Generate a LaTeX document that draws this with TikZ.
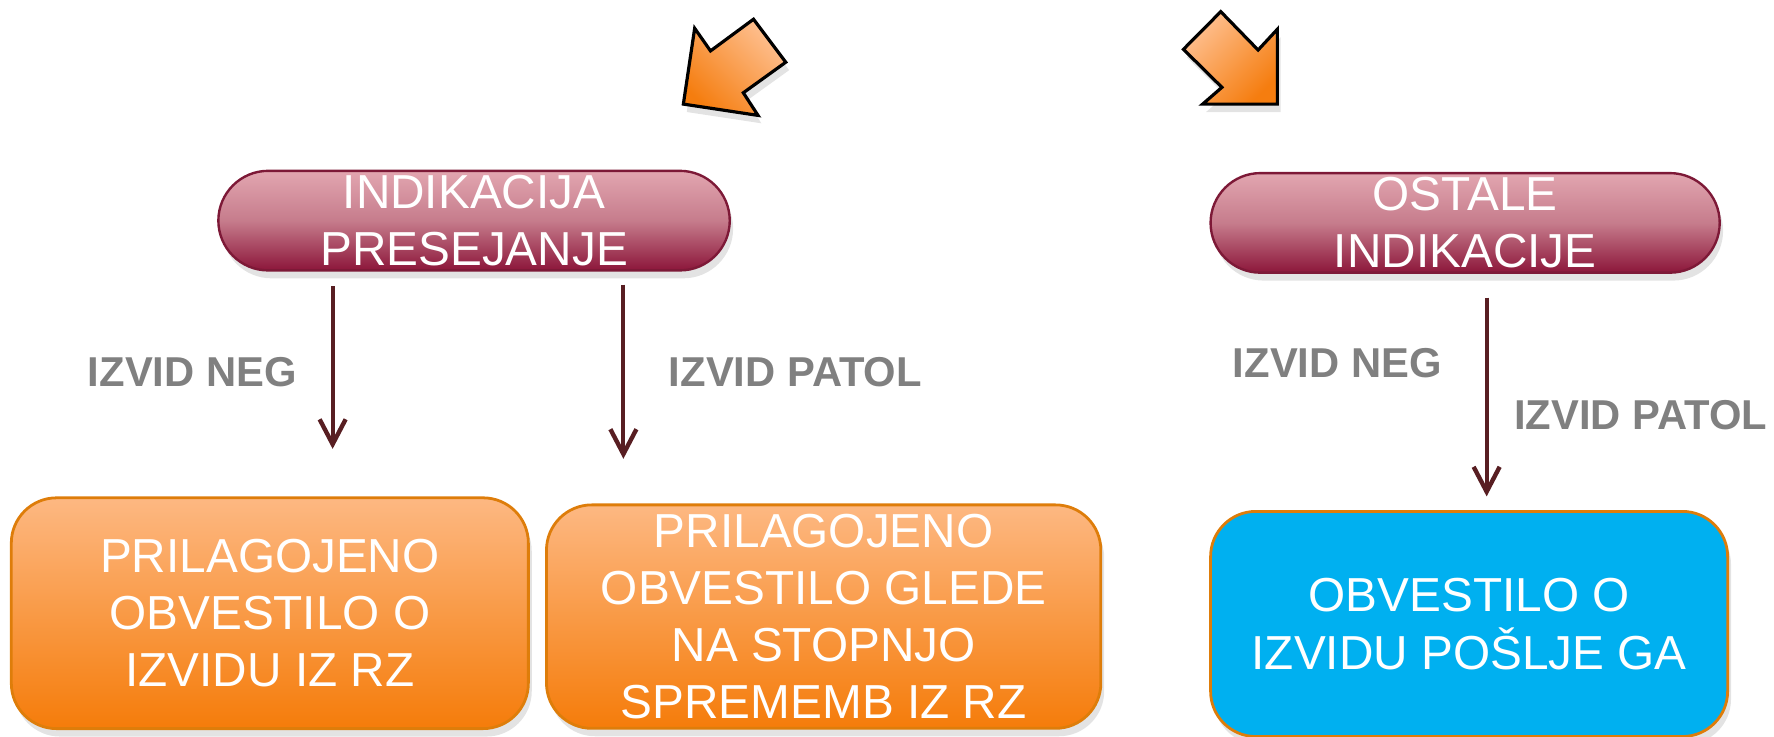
\documentclass[tikz,border=0pt]{standalone}
\usepackage{fontspec}
\setmainfont{Liberation Sans}
\usepackage{tikz}
\usetikzlibrary{arrows.meta, shapes.misc, shadows}

\definecolor{pillTop}{RGB}{226,166,176}
\definecolor{pillMid}{RGB}{198,124,140}
\definecolor{pillBot}{RGB}{140,22,58}
\definecolor{pillLine}{RGB}{125,25,55}
\definecolor{orTop}{RGB}{253,184,130}
\definecolor{orBot}{RGB}{245,124,10}
\definecolor{orLine}{RGB}{222,125,10}
\definecolor{cyanFill}{RGB}{0,176,240}
\definecolor{flowCol}{RGB}{88,30,34}
\definecolor{tagCol}{RGB}{128,128,128}
\definecolor{bigLight}{RGB}{254,192,145}
\definecolor{bigDark}{RGB}{245,125,15}

\begin{document}
\begin{tikzpicture}[
	softshadow/.style={drop shadow={opacity=0.22, shadow xshift=0.3mm, shadow yshift=-0.7mm}},
	pill/.style={rounded rectangle, draw=pillLine, line width=0.6pt, top color=pillTop, bottom color=pillBot, middle color=pillMid, softshadow, text=white, align=center, font=\fontsize{12}{14.4}\selectfont, minimum height=0.88cm, inner sep=0pt},
	card/.style={rectangle, rounded corners=0.4cm, draw=orLine, line width=0.7pt, softshadow, text=white, align=center, font=\fontsize{12}{14.4}\selectfont, inner sep=0pt},
	orangecard/.style={card, top color=orTop, bottom color=orBot},
	bluecard/.style={card, fill=cyanFill},
	tag/.style={text=tagCol, font=\bfseries\fontsize{10.5}{12}\selectfont, inner sep=0pt},
	flow/.style={draw=flowCol, line width=1pt, -{Straight Barb[length=2.2mm, width=2.3mm, line width=1.1pt]}},
	bigarrow/.style={draw=black, line width=0.8pt, line join=miter, softshadow}
]
	\useasboundingbox (0,0) rectangle (15.68,-6.514);

	\begin{scope}
		\draw[bigarrow, top color=bigLight, bottom color=bigDark, shading angle=-45]
			(6.04,-0.92) -- (6.14,-0.25) -- (6.28,-0.45) -- (6.66,-0.17) -- (6.945,-0.55) -- (6.57,-0.82) -- (6.70,-1.02) -- cycle;
		\draw[bigarrow, top color=bigLight, bottom color=bigDark, shading angle=45]
			(10.79,-0.103) -- (11.12,-0.442) -- (11.29,-0.259) -- (11.29,-0.92) -- (10.63,-0.92) -- (10.80,-0.772) -- (10.46,-0.436) -- cycle;
	\end{scope}

	\node[pill, minimum width=4.52cm] (presej) at (4.19,-1.95) {INDIKACIJA\\PRESEJANJE};
	\node[pill, minimum width=4.50cm] (ostale) at (12.95,-1.97) {OSTALE\\INDIKACIJE};

	\node[orangecard, minimum width=4.57cm, minimum height=2.04cm] (obvRZ) at (2.385,-5.42) {PRILAGOJENO\\OBVESTILO O\\IZVIDU IZ RZ};
	\node[orangecard, minimum width=4.90cm, minimum height=1.975cm] (obvStop) at (7.28,-5.45) {PRILAGOJENO\\OBVESTILO GLEDE\\NA STOPNJO\\SPREMEMB IZ RZ};
	\node[bluecard, minimum width=4.57cm, minimum height=1.99cm] (obvGA) at (12.985,-5.515) {OBVESTILO O\\IZVIDU PO\v{S}LJE GA};

	\node[tag] (negL) at (1.70,-3.285) {IZVID NEG};
	\node[tag] (patL) at (7.03,-3.29) {IZVID PATOL};
	\node[tag] (negR) at (11.82,-3.21) {IZVID NEG};
	\node[tag] (patR) at (14.50,-3.67) {IZVID PATOL};

	\coordinate (colNeg) at (2.94,0);
	\coordinate (colPat) at (5.51,0);
	\coordinate (colOst) at (13.14,0);

	\begin{scope}
		\draw[flow, shorten <=1.3mm, shorten >=4.2mm] (presej.south -| colNeg) -- (obvRZ.north -| colNeg);
		\draw[flow, shorten <=1.15mm, shorten >=3.95mm] (presej.south -| colPat) -- (obvStop.north -| colPat);
		\draw[flow, shorten <=2.1mm, shorten >=1.2mm] (ostale.south -| colOst) -- (obvGA.north -| colOst);
	\end{scope}
\end{tikzpicture}
\end{document}
